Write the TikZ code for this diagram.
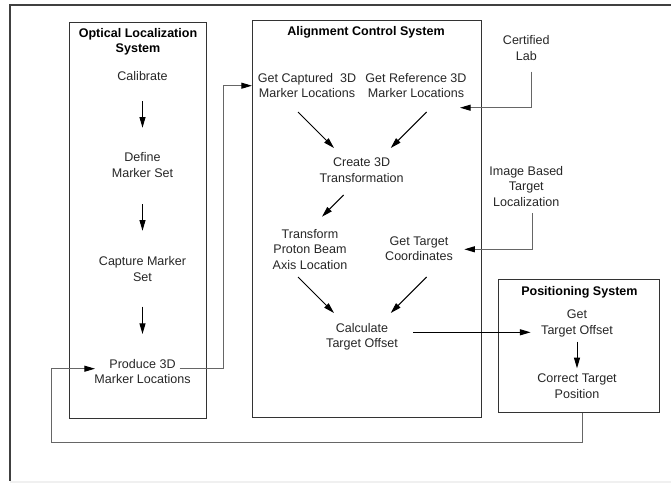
\documentclass[tikz,border=0pt]{standalone}
\usepackage{fontspec}
\setmainfont{Liberation Sans}
\usetikzlibrary{arrows.meta}

\tikzset{every picture/.style={line width=0.75pt}}
\tikzset{
  sysbox/.style={draw=black!80, inner sep=0pt},
  lbl/.style={align=center, inner sep=0.75pt, text=black!85, font=\fontsize{9.4}{11.6}\selectfont},
  ttl/.style={lbl, text=black, font=\bfseries\fontsize{9.4}{11.6}\selectfont},
  flow/.style={-{Triangle[length=8pt,width=4.5pt]}, draw=black},
  feed/.style={-{Triangle[length=8pt,width=4.5pt,color=black]}, draw=black!60}
}

\begin{document}
\begin{tikzpicture}[x=0.75pt,y=0.75pt,yscale=-1,xscale=1]
\useasboundingbox (0,0) rectangle (671,483);

%Outer frame
\fill [black!6] (10,481) rectangle (671,483);
\draw [black!75, line width=1.1pt] (671,5) -- (10,5) -- (10,481);

%Shape: Rectangle [Optical Localization System]
\node [sysbox, minimum width=103.05pt, minimum height=297.5pt] (olsbox) at (138,220.65) {};
%Shape: Rectangle [Alignment Control System]
\node [sysbox, minimum width=171.7pt, minimum height=297.75pt] (acsbox) at (366.95,219.2) {};
%Shape: Rectangle [Positioning System]
\node [sysbox, minimum width=121.1pt, minimum height=99.75pt] (psbox) at (579.25,345.8) {};

% Text Node
\node [ttl] (olsttl) at (138,42) {Optical Localization\\System};
% Text Node
\node [lbl] (calib) at (142.5,75.7) {Calibrate};
% Text Node
\node [lbl] (defset) at (142.5,165) {Define\\Marker Set};
% Text Node
\node [lbl] (capset) at (142.5,269) {Capture Marker\\Set};
% Text Node
\node [lbl] (produce) at (142.5,371.3) {Produce 3D\\Marker Locations};

% Text Node
\node [ttl] (acsttl) at (366,32.7) {Alignment Control System};
% Text Node
\node [lbl] (getcap) at (307,85.7) {Get Captured\ \ 3D\\Marker Locations};
% Text Node
\node [lbl] (getref) at (416,85.7) {Get Reference 3D\\Marker Locations};
% Text Node
\node [lbl] (create) at (361.6,170.2) {Create 3D\\Transformation};
% Text Node
\node [lbl] (xform) at (310,249.3) {Transform\\Proton Beam\\Axis Location};
% Text Node
\node [lbl] (gettgt) at (419,248.8) {Get Target\\Coordinates};
% Text Node
\node [lbl] (calcoff) at (362,336.8) {Calculate\\Target Offset};

% Text Node
\node [lbl] (certlab) at (526.3,48.2) {Certified\\Lab};
% Text Node
\node [lbl] (imgloc) at (526.3,186.2) {Image Based\\Target\\Localization};

% Text Node
\node [ttl] (psttl) at (579.4,292) {Positioning System};
% Text Node
\node [lbl] (getoff) at (577,323.5) {Get\\Target Offset};
% Text Node
\node [lbl] (correct) at (577,386) {Correct Target\\Position};

%Straight Lines [optical localization steps]
\draw [flow] ([shift={(0,25.3)}]calib.center) -- ([shift={(0,-37.3)}]defset.center);
\draw [flow] ([shift={(0,39)}]defset.center) -- ([shift={(0,-38.3)}]capset.center);
\draw [flow] ([shift={(0,37.7)}]capset.center) -- ([shift={(0,-37.3)}]produce.center);

%Straight Lines [alignment control steps]
\draw [flow] ([shift={(-9,26.3)}]getcap.center) -- ([shift={(-27.6,-22.2)}]create.center);
\draw [flow] ([shift={(10.6,26.3)}]getref.center) -- ([shift={(29.1,-22.2)}]create.center);
\draw [flow] ([shift={(-18,24.8)}]create.center) -- ([shift={(12,-32.6)}]xform.center);
\draw [flow] ([shift={(-12,27.7)}]xform.center) -- ([shift={(-28,-23.8)}]calcoff.center);
\draw [flow] ([shift={(7.6,28.2)}]gettgt.center) -- ([shift={(28.7,-23.8)}]calcoff.center);

%Straight Lines [positioning steps]
\draw [flow] ([shift={(0,18.2)}]getoff.center) -- ([shift={(0,-17.7)}]correct.center);

%Straight Lines [links between systems]
\draw [feed] ([shift={(37.2,-2.6)}]produce.center) -- ++(43.3,0) |- (acsbox.west |- getcap.center);
\draw [feed] ([shift={(5.4,23.5)}]certlab.center) |- ([shift={(44,22)}]getref.center);
\draw [feed] ([shift={(5.7,26.8)}]imgloc.center) |- ([shift={(45.3,0.5)}]gettgt.center);
\draw [draw=black, -{Triangle[length=8pt,width=4.5pt]}] ([shift={(51,-4.5)}]calcoff.center) -- ([shift={(-46.4,8.8)}]getoff.center);
\draw [feed] ([xshift=3.75pt]correct.center |- psbox.south) -- ++(0,29.7) -| ([shift={(-91.5,-2.6)}]produce.center) -- ([shift={(-47.5,-2.6)}]produce.center);

\end{tikzpicture}
\end{document}
